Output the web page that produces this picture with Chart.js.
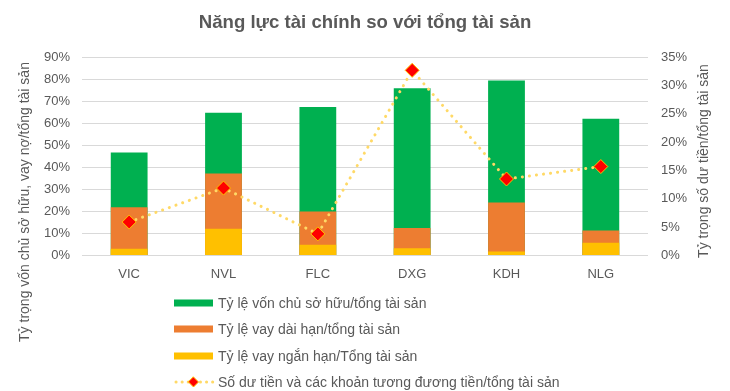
<!DOCTYPE html>
<html>
<head>
<meta charset="utf-8">
<script src="https://cdn.jsdelivr.net/npm/chart.js@4.4.0/dist/chart.umd.min.js"></script>
<style>
  html, body { margin: 0; padding: 0; background: #fff; }
  #wrap { width: 730px; height: 391px; }
</style>
</head>
<body>
<div id="wrap"><canvas id="finChart" width="730" height="391"></canvas></div>
<script>
// data (in %)
const companies = ['VIC', 'NVL', 'FLC', 'DXG', 'KDH', 'NLG'];
const equityRatio = [46.7, 64.8, 67.4, 76.0, 79.5, 62.1];
const longTermDebt = [21.9, 37.2, 20.0, 12.4, 24.0, 11.3];
const shortTermDebt = [3.0, 12.1, 4.8, 3.3, 1.8, 5.7];
const cashRatio = [5.9, 11.9, 3.8, 32.7, 13.5, 15.7];

const seriesNames = [
    'Tỷ lệ vốn chủ sở hữu/tổng tài sản',
    'Tỷ lệ vay dài hạn/tổng tài sản',
    'Tỷ lệ vay ngắn hạn/Tổng tài sản',
    'Số dư tiền và các khoản tương đương tiền/tổng tài sản'
];
const leftAxisTitle = 'Tỷ trọng vốn chủ sở hữu, vay nợ/tổng tài sản';
const rightAxisTitle = 'Tỷ trọng số dư tiền/tổng tài sản';

const textColor = '#595959';
const fontFamily = "'Liberation Sans', Arial, sans-serif";

// both axis titles read bottom-to-top in the original
function drawVerticalText(c, text, x, y) {
    c.save();
    c.translate(x, y);
    c.rotate(-Math.PI / 2);
    c.textAlign = 'center';
    c.textBaseline = 'middle';
    c.fillText(text, 0, 0);
    c.restore();
}

// legend drawn as a vertical list under the plot, like the original
const listLegend = {
    id: 'listLegend',
    afterDraw(chart) {
        const c = chart.ctx;
        const x0 = 174, boxW = 39, rowY = [303, 329, 356, 382];
        c.save();
        c.font = '14px ' + fontFamily;
        c.textBaseline = 'middle';
        chart.data.datasets.forEach((ds, i) => {
            const y = rowY[i];
            if (ds.type === 'line') {
                c.strokeStyle = ds.borderColor;
                c.lineWidth = 3;
                c.lineCap = 'round';
                c.setLineDash([0.1, 6]);
                c.beginPath();
                c.moveTo(x0 + 2, y);
                c.lineTo(x0 + boxW, y);
                c.stroke();
                c.setLineDash([]);
                const mx = x0 + boxW / 2, r = 5;
                c.beginPath();
                c.moveTo(mx, y - r);
                c.lineTo(mx + r, y);
                c.lineTo(mx, y + r);
                c.lineTo(mx - r, y);
                c.closePath();
                c.fillStyle = ds.pointBackgroundColor;
                c.fill();
                c.strokeStyle = ds.pointBorderColor;
                c.lineWidth = 1;
                c.stroke();
            } else {
                c.fillStyle = ds.backgroundColor;
                c.fillRect(x0, y - 3.5, boxW, 7);
            }
            c.fillStyle = textColor;
            c.fillText(ds.label, x0 + boxW + 5, y + 1);
        });

        c.fillStyle = textColor;
        drawVerticalText(c, leftAxisTitle, 25, 202);
        drawVerticalText(c, rightAxisTitle, 704, 161);
        c.restore();
    }
};

const ctx = document.getElementById('finChart').getContext('2d');
const finChart = new Chart(ctx, {
    type: 'bar',
    data: {
        labels: companies,
        datasets: [{
            label: seriesNames[0],
            data: equityRatio,
            backgroundColor: '#00B050',
            yAxisID: 'y',
            order: 3
        }, {
            label: seriesNames[1],
            data: longTermDebt,
            backgroundColor: '#ED7D31',
            yAxisID: 'y',
            order: 2
        }, {
            label: seriesNames[2],
            data: shortTermDebt,
            backgroundColor: '#FFC000',
            yAxisID: 'y',
            order: 1
        }, {
            type: 'line',
            label: seriesNames[3],
            data: cashRatio,
            yAxisID: 'y1',
            borderColor: '#FFD966',
            borderWidth: 3,
            borderDash: [0.1, 7],
            borderCapStyle: 'round',
            pointStyle: 'rectRot',
            pointRadius: 7,
            pointBackgroundColor: '#FF0000',
            pointBorderColor: '#FFC000',
            pointBorderWidth: 1,
            tension: 0,
            order: 0
        }]
    },
    options: {
        responsive: false,
        animation: false,
        layout: { padding: { top: 4, left: 6, right: 6, bottom: 106 } },
        datasets: { bar: { categoryPercentage: 0.78, barPercentage: 0.5 } },
        plugins: {
            legend: { display: false },
            tooltip: { enabled: false },
            title: {
                display: true,
                text: 'Năng lực tài chính so với tổng tài sản',
                color: textColor,
                font: { family: fontFamily, size: 18.6, weight: 'bold' },
                padding: { top: 8, bottom: 23 }
            }
        },
        scales: {
            x: {
                stacked: true,
                grid: { display: false },
                border: { display: false },
                ticks: { color: textColor, font: { family: fontFamily, size: 13 } }
            },
            y: {
                position: 'left',
                min: 0,
                max: 90,
                afterFit: s => { s.width = 76; },
                ticks: {
                    stepSize: 10,
                    padding: 12,
                    color: textColor,
                    font: { family: fontFamily, size: 13 },
                    callback: v => v + '%'
                },
                grid: { color: '#D9D9D9', drawTicks: false },
                border: { display: false }
            },
            y1: {
                position: 'right',
                min: 0,
                max: 35,
                afterFit: s => { s.width = 76; },
                ticks: {
                    stepSize: 5,
                    padding: 5,
                    color: textColor,
                    font: { family: fontFamily, size: 13 },
                    callback: v => v + '%'
                },
                grid: { display: false },
                border: { display: false }
            }
        }
    },
    plugins: [listLegend]
});
</script>
</body>
</html>
